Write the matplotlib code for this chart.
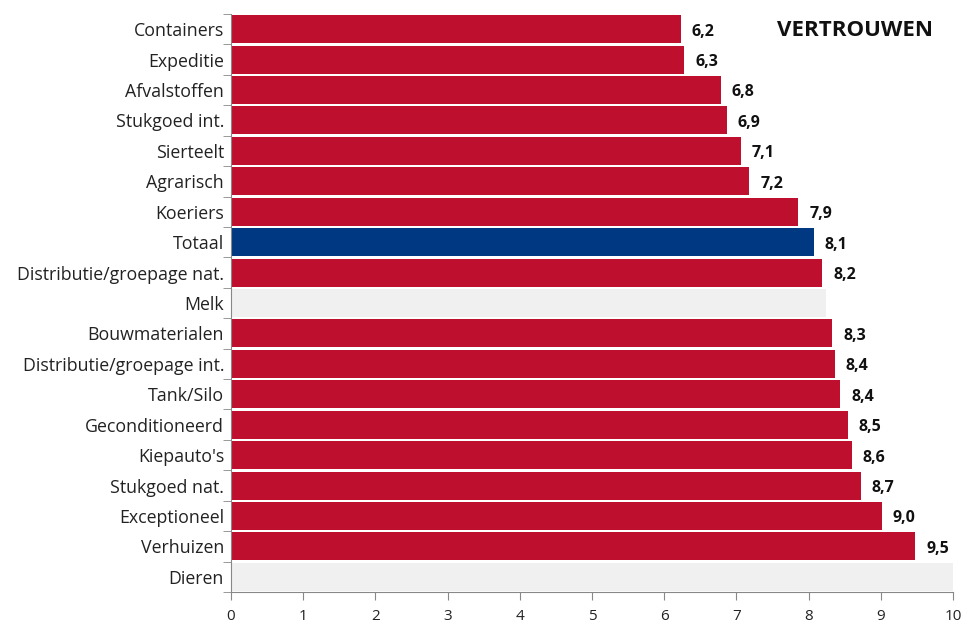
import matplotlib
matplotlib.use("Agg")
import matplotlib.pyplot as plt
from matplotlib.ticker import FixedLocator

categories = ["Containers", "Expeditie", "Afvalstoffen", "Stukgoed int.", "Sierteelt",
              "Agrarisch", "Koeriers", "Totaal", "Distributie/groepage nat.", "Melk",
              "Bouwmaterialen", "Distributie/groepage int.", "Tank/Silo", "Geconditioneerd",
              "Kiepauto's", "Stukgoed nat.", "Exceptioneel", "Verhuizen", "Dieren"]
values = [6.23, 6.28, 6.78, 6.87, 7.06, 7.18, 7.86, 8.07, 8.19, 8.24,
          8.33, 8.36, 8.44, 8.54, 8.60, 8.72, 9.01, 9.48, 10.0]
labels = ["6,2", "6,3", "6,8", "6,9", "7,1", "7,2", "7,9", "8,1", "8,2", "",
          "8,3", "8,4", "8,4", "8,5", "8,6", "8,7", "9,0", "9,5", ""]
kind = ["r"] * 7 + ["b", "r", "g"] + ["r"] * 8 + ["g"]
title = "VERTROUWEN"

colmap = {"r": "#BE0F2E", "b": "#003882", "g": "#F0F0F0"}

plt.rcParams['font.family'] = ['Open Sans', 'DejaVu Sans']
fig = plt.figure(figsize=(9.75, 6.35), dpi=100)
ax = fig.add_axes([231/975, 1-592/635, 722/975, 578/635])

y = list(range(len(categories)))
ax.barh(y, values, height=0.92, color=[colmap[k] for k in kind])
for yi, v, lab in zip(y, values, labels):
    if lab:
        ax.text(v + 0.15, yi + 0.08, lab, va="center", ha="left", fontsize=11.5,
                fontweight="bold", color="#111111")

ax.set_ylim(len(categories) - 0.5, -0.5)
ax.set_xlim(0, 10)
ax.set_yticks(y)
ax.set_yticklabels(categories, fontsize=12.8, color="#222222")
ax.yaxis.set_minor_locator(FixedLocator([i - 0.5 for i in range(len(categories) + 1)]))
ax.tick_params(axis="y", which="major", length=0, pad=5)
ax.tick_params(axis="y", which="minor", length=6, color="#888888", direction="out")
ax.set_xticks(range(11))
ax.tick_params(axis="x", length=6, color="#888888", labelsize=11, labelcolor="#222222", pad=6)
for s in ["top", "right"]:
    ax.spines[s].set_visible(False)
for s in ["left", "bottom"]:
    ax.spines[s].set_color("#888888")
ax.text(855/975, 1-31/635, title, transform=fig.transFigure, ha="center", va="center",
        fontsize=16, fontweight="bold", color="#111111")

fig.savefig("out.png", dpi=100)
